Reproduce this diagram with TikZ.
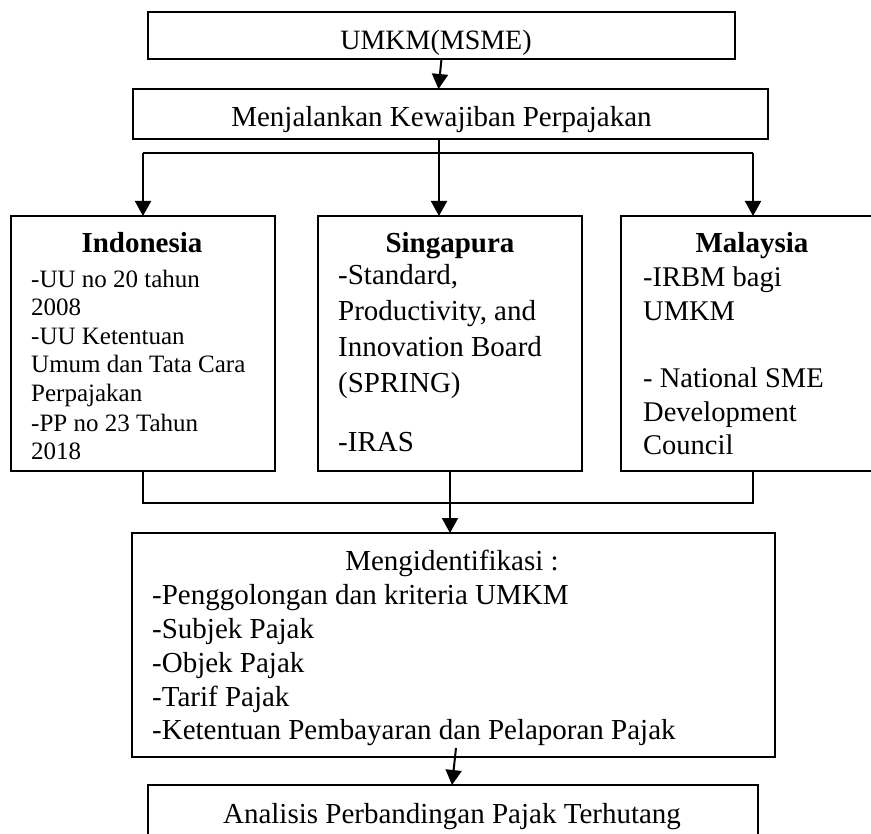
\documentclass[tikz,border=0pt]{standalone}
\usepackage{fontspec}
\setmainfont{Liberation Serif}
\usetikzlibrary{arrows.meta,calc}
\begin{document}
\begin{tikzpicture}[x=1pt,y=-1pt,
  box/.style={draw, line width=1.3pt, inner sep=0pt, outer sep=0pt, anchor=north west},
  arr/.style={line width=2pt, -{Triangle[width=16pt,length=15pt]}},
  link/.style={line width=1.6pt},
  big/.style={font=\fontsize{29}{34}\selectfont},
  mid/.style={font=\fontsize{28.5}{34}\selectfont},
  small/.style={font=\fontsize{25}{29}\selectfont},
  lt/.style={inner sep=0pt, anchor=base west},
  ct/.style={inner sep=0pt, anchor=base},
  head/.style={inner sep=0pt, anchor=base, font=\fontsize{29}{34}\selectfont\bfseries}]
\useasboundingbox (0,0) rectangle (871,834);
\clip (0,0) rectangle (871,834);

% boxes
\node[box, minimum width=587pt, minimum height=47pt] (umkm) at (148,12) {};
\node[box, minimum width=635pt, minimum height=50pt] (menj) at (133,89) {};
\node[box, minimum width=264pt, minimum height=255pt] (indo) at (11,216) {};
\node[box, minimum width=264pt, minimum height=255pt] (sing) at (318,216) {};
\node[box, minimum width=264pt, minimum height=255pt] (malay) at (621,216) {};
\node[box, minimum width=643pt, minimum height=224pt] (mengid) at (132,533) {};
\node[box, minimum width=610pt, minimum height=80pt] (anal) at (148,785) {};

% texts
\node[ct, font=\fontsize{28}{34}\selectfont] (tumkm) at (436,50) {UMKM(MSME)};
\node[ct, big] (tmenj) at (441.5,127) {Menjalankan Kewajiban Perpajakan};

\node[head] (hindo) at (142,253) {Indonesia};
\node[lt, small] (i1) at (31,288) {-UU no 20 tahun};
\node[lt, small] (i2) at (31,316) {2008};
\node[lt, small] (i3) at (31,345) {-UU Ketentuan};
\node[lt, small] (i4) at (31,373) {Umum dan Tata Cara};
\node[lt, small] (i5) at (31,402) {Perpajakan};
\node[lt, small] (i6) at (31,432) {-PP no 23 Tahun};
\node[lt, small] (i7) at (31,460) {2018};

\node[head] (hsing) at (450,253) {Singapura};
\node[lt, big] (s1) at (338,285) {-Standard,};
\node[lt, big] (s2) at (338,321) {Productivity, and};
\node[lt, big] (s3) at (338,357) {Innovation Board};
\node[lt, big] (s4) at (338,393) {(SPRING)};
\node[lt, big] (s5) at (338,452) {-IRAS};

\node[head] (hmalay) at (752,253) {Malaysia};
\node[lt, mid] (m1) at (643,287) {-IRBM bagi};
\node[lt, mid] (m2) at (643,321) {UMKM};
\node[lt, mid] (m3) at (643,388) {- National SME};
\node[lt, mid] (m4) at (643,422) {Development};
\node[lt, mid] (m5) at (643,454) {Council};

\node[ct, big] (hmengid) at (452,570) {Mengidentifikasi :};
\node[lt, big] (g1) at (152,604) {-Penggolongan dan kriteria UMKM};
\node[lt, big] (g2) at (152,638) {-Subjek Pajak};
\node[lt, big] (g3) at (152,672) {-Objek Pajak};
\node[lt, big] (g4) at (152,706) {-Tarif Pajak};
\node[lt, big] (g5) at (152,739) {-Ketentuan Pembayaran dan Pelaporan Pajak};

\node[ct, big] (tanal) at (452,823) {Analisis Perbandingan Pajak Terhutang};

% connectors
\draw[arr] (umkm.south) -- ([xshift=-12pt]menj.north);

\coordinate (busL) at (143,153);
\coordinate (busR) at (753,153);
\draw[link] (busL) -- (busR);
\draw[arr] (busL) -- (indo.north);
\draw[arr] (busR) -- (malay.north);
\draw[arr] ([xshift=-11.5pt]menj.south) -- ([xshift=-11pt]sing.north);

\draw[link] (indo.south) -- ++(0,32) -| (malay.south);
\draw[arr] (sing.south) -- (sing.south |- mengid.north);

\draw[arr] ([xshift=2.5pt,yshift=9pt]mengid.south) -- ([xshift=-1pt]anal.north);
\end{tikzpicture}
\end{document}
